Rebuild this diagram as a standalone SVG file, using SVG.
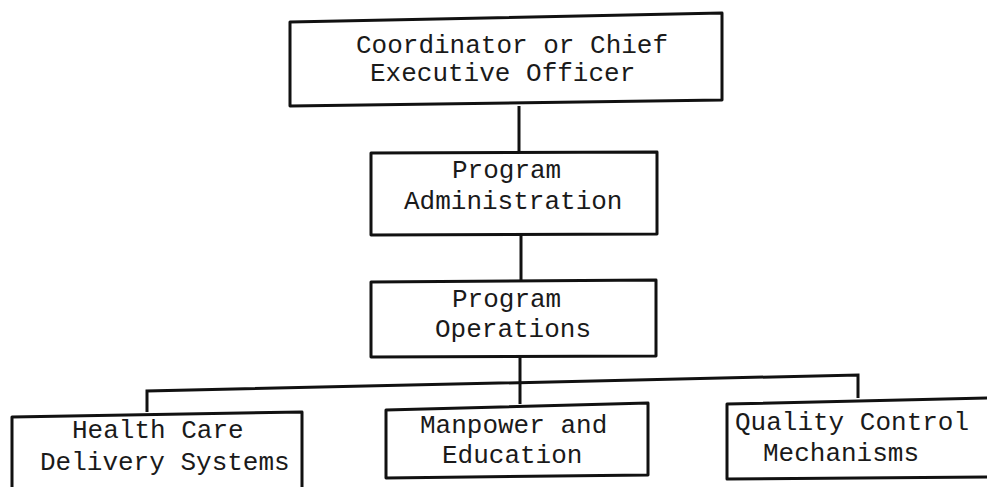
<svg xmlns="http://www.w3.org/2000/svg" width="987" height="487" viewBox="0 0 987 487">
<style>
.box{fill:none;stroke:#111;stroke-width:3;stroke-linejoin:round}
.con{fill:none;stroke:#111;stroke-width:3}
text{font-family:"Liberation Mono","Courier New",monospace;font-size:26px;fill:#1a1a1a}
</style>
<rect width="987" height="487" fill="#fff"/>
<g id="connectors">
<line class="con" x1="519" y1="106" x2="519" y2="153"/>
<line class="con" x1="521" y1="235" x2="521" y2="281"/>
<line class="con" x1="520" y1="357" x2="520" y2="384"/>
<polyline class="con" points="147,412 147,391 858,375 858,398"/>
<line class="con" x1="520" y1="384" x2="520" y2="404"/>
</g>
<g id="ceo">
<polygon class="box" points="290,22 722,13 722,100 290,106"/>
<text x="356" y="53">Coordinator or Chief</text>
<text x="370" y="81">Executive Officer</text>
</g>
<g id="admin">
<polygon class="box" points="371,153 657,152 657,234 371,235"/>
<text x="452" y="178">Program</text>
<text x="404" y="209">Administration</text>
</g>
<g id="operations">
<polygon class="box" points="371,282 656,280 656,356 371,357"/>
<text x="452" y="307">Program</text>
<text x="435" y="337">Operations</text>
</g>
<g id="health">
<polyline class="box" points="12,490 12,417 302,412 302,490"/>
<text x="72" y="438">Health Care</text>
<text x="40" y="470">Delivery Systems</text>
</g>
<g id="manpower">
<polygon class="box" points="386,410 648,403 648,475 386,478"/>
<text x="420" y="433">Manpower and</text>
<text x="442" y="463">Education</text>
</g>
<g id="quality">
<polyline class="box" points="990,398 727,404 727,479 990,477"/>
<text x="735" y="430">Quality Control</text>
<text x="763" y="461">Mechanisms</text>
</g>
</svg>
